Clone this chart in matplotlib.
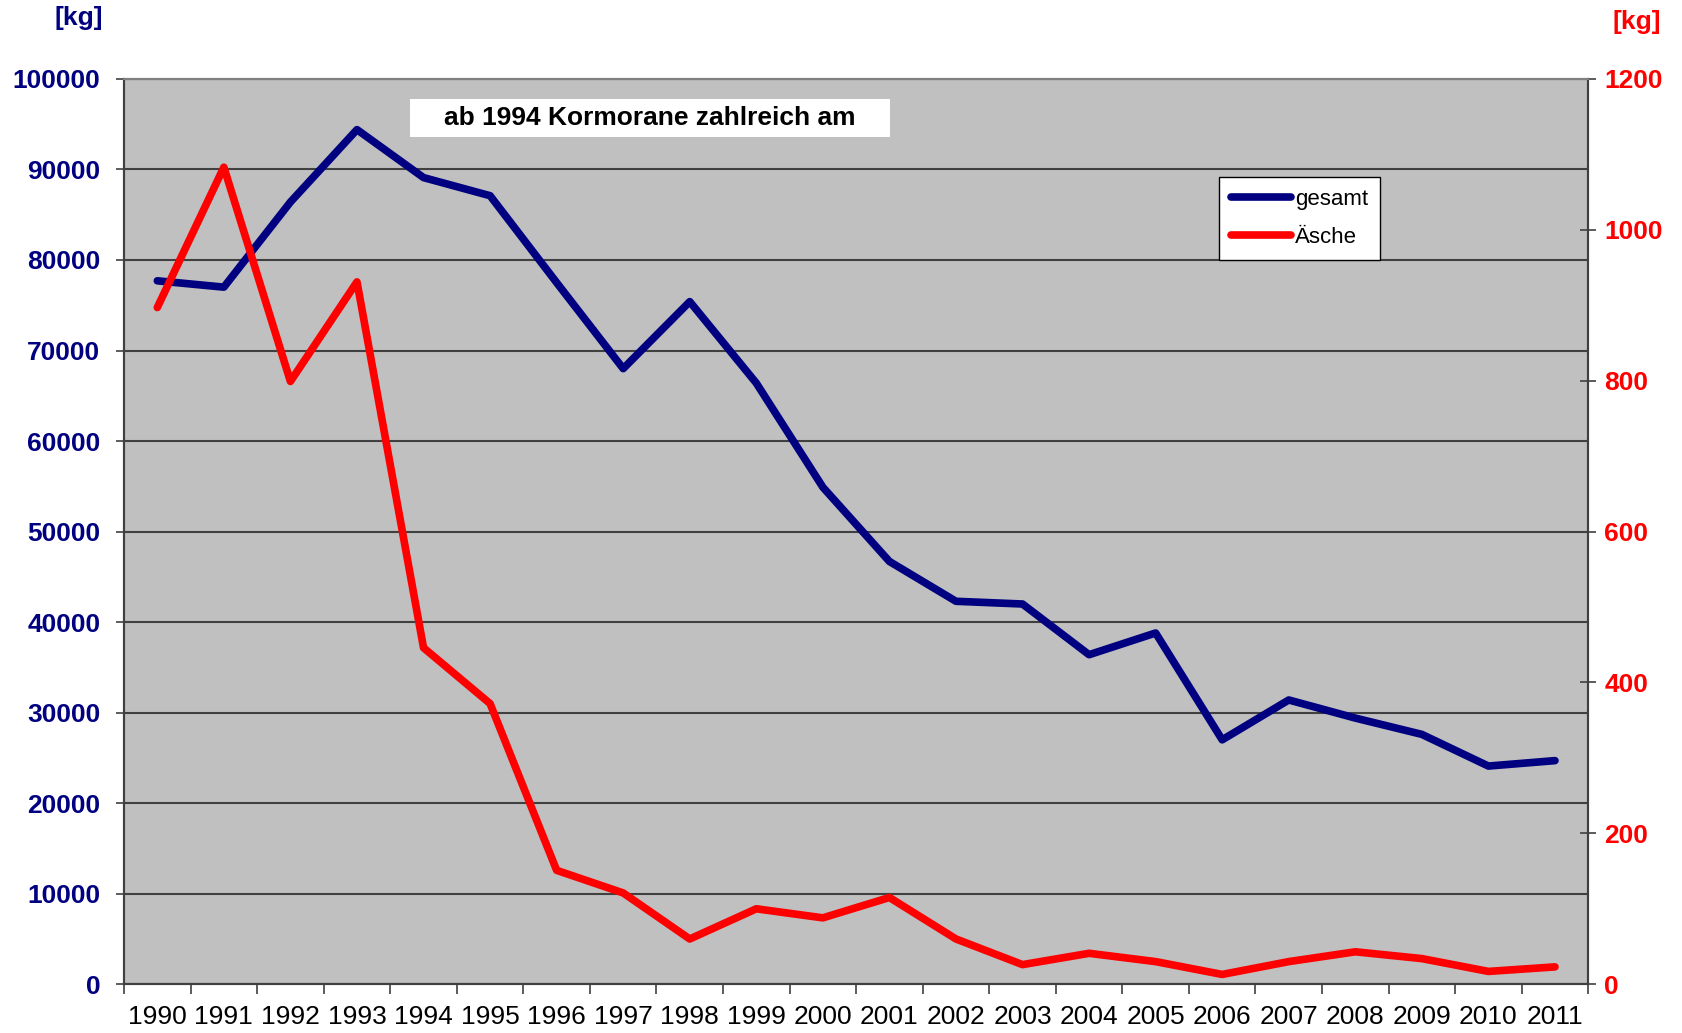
import matplotlib
matplotlib.use("Agg")
import matplotlib.pyplot as plt
from matplotlib.patches import Rectangle
import numpy as np

plt.rcParams['font.family'] = ['Liberation Sans', 'DejaVu Sans']

# Daten
jahre = [str(j) for j in range(1990, 2012)]
gesamt = [77700, 77000, 86400, 94400, 89100, 87100, 77500, 68000, 75400, 66400, 54900,
          46700, 42300, 42000, 36400, 38800, 27000, 31400, 29400, 27600, 24100, 24700]
aesche = [897, 1083, 799, 931, 446, 372, 151, 121, 60, 100, 88,
          115, 60, 26, 41, 30, 13, 30, 43, 34, 17, 23]
links_ticks = list(range(0, 100001, 10000))
rechts_ticks = list(range(0, 1201, 200))
hinweis = "ab 1994 Kormorane zahlreich am"

navy = "#000080"
rot = "#FF0000"

fig = plt.figure(figsize=(16.83, 10.33), dpi=100)
ax = fig.add_axes([0.0737, 0.0472, 0.870, 0.8764])
ax.set_facecolor("#C0C0C0")
x = np.arange(len(jahre))

ax.plot(x, gesamt, color=navy, lw=5.5, label="gesamt", solid_capstyle="round", zorder=3)
ax.set_ylim(0, 100000)
ax.set_yticks(links_ticks)
ax.set_yticklabels([str(t) for t in links_ticks])
ax.yaxis.grid(True, color="#404040", lw=1.5)
ax.set_axisbelow(True)
ax.tick_params(axis="y", direction="out", length=6, width=1.2, color="#404040",
               labelsize=19, labelcolor=navy, pad=11)
for lab in ax.get_yticklabels():
    lab.set_fontweight("bold")

ax.set_xlim(-0.5, len(jahre) - 0.5)
ax.set_xticks(x)
ax.set_xticklabels(jahre)
ax.set_xticks(np.arange(-0.5, len(jahre)), minor=True)
ax.tick_params(axis="x", which="major", length=0, labelsize=19, pad=15)
ax.tick_params(axis="x", which="minor", direction="out", length=7, width=1.2, color="#404040")

ax2 = ax.twinx()
ax2.plot(x, aesche, color=rot, lw=5.5, label="Äsche", solid_capstyle="round", zorder=3)
ax2.set_ylim(0, 1200)
ax2.set_yticks(rechts_ticks)
ax2.set_yticklabels([str(t) for t in rechts_ticks])
ax2.tick_params(axis="y", direction="inout", length=11, width=1.2, color="#404040",
                labelsize=19, labelcolor=rot, pad=6)
for lab in ax2.get_yticklabels():
    lab.set_fontweight("bold")

for a in (ax, ax2):
    for s in ("left", "bottom", "right"):
        a.spines[s].set_color("#404040")
        a.spines[s].set_linewidth(1.5)
    a.spines["top"].set_color("#808080")
    a.spines["top"].set_linewidth(1.5)

# Hinweis-Kasten
ax2.add_patch(Rectangle((0.195, 0.936), 0.328, 0.042, transform=ax2.transAxes,
                        facecolor="white", edgecolor="none", zorder=4))
ax2.text(0.359, 0.957, hinweis, transform=ax2.transAxes, ha="center", va="center",
         fontsize=19, fontweight="bold", color="black", zorder=5)

h1, l1 = ax.get_legend_handles_labels()
h2, l2 = ax2.get_legend_handles_labels()
leg = ax2.legend(h1 + h2, l1 + l2, loc="upper left", bbox_to_anchor=(0.748, 0.892),
                 fontsize=16, frameon=True, fancybox=False, framealpha=1,
                 edgecolor="black", handlelength=2.7, handletextpad=0.15,
                 labelspacing=0.75, borderpad=0.55, borderaxespad=0)
leg.get_frame().set_linewidth(1.0)
leg.set_zorder(6)

fig.text(79 / 1683, 1 - 18 / 1033, "[kg]", color=navy, fontsize=19, fontweight="bold",
         ha="center", va="center")
fig.text(1637 / 1683, 1 - 22 / 1033, "[kg]", color=rot, fontsize=19, fontweight="bold",
         ha="center", va="center")

fig.savefig("out.png", dpi=100)
